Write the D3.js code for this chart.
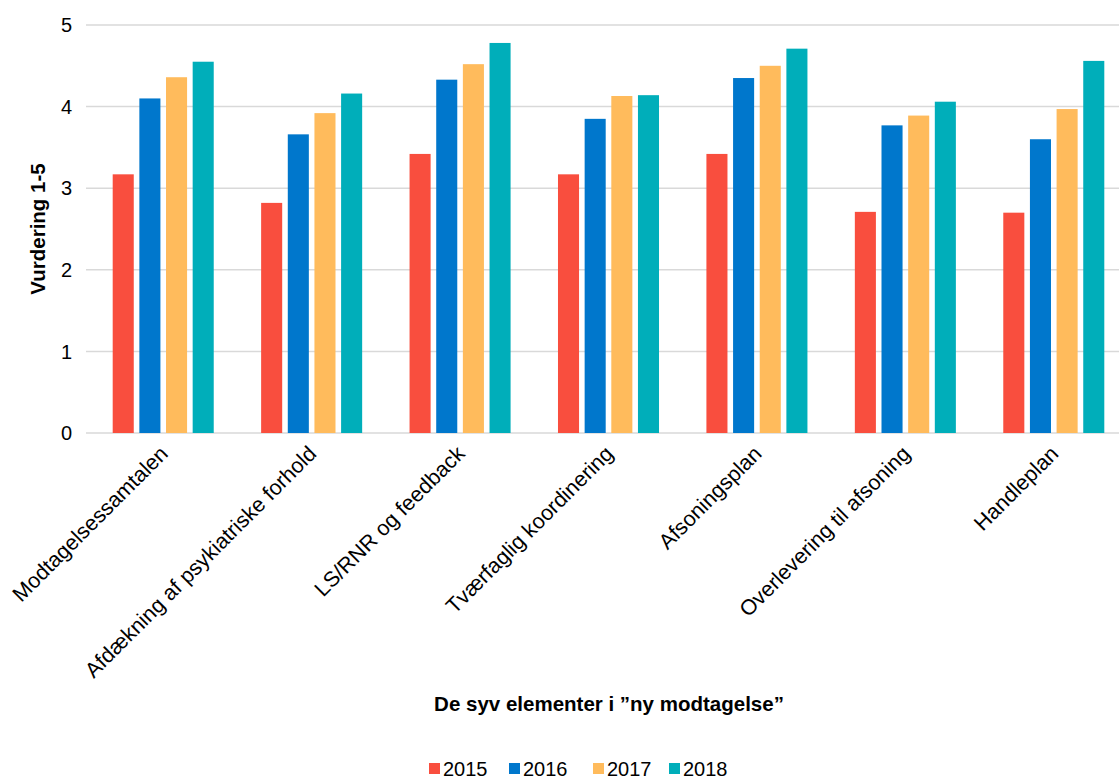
<!DOCTYPE html>
<html>
<head>
<meta charset="utf-8">
<script src="https://cdn.jsdelivr.net/npm/d3@7"></script>
<style>
  body { margin: 0; background: #fff; }
  text { font-family: "Liberation Sans", Arial, sans-serif; fill: #000; }
</style>
</head>
<body>
<div id="chart"></div>
<script>
// Data
var categories = ["Modtagelsessamtalen", "Afdækning af psykiatriske forhold", "LS/RNR og feedback",
    "Tværfaglig koordinering", "Afsoningsplan", "Overlevering til afsoning", "Handleplan"];
var years = ["2015", "2016", "2017", "2018"];
var values2015 = [3.17, 2.82, 3.42, 3.17, 3.42, 2.71, 2.70];
var values2016 = [4.10, 3.66, 4.33, 3.85, 4.35, 3.77, 3.60];
var values2017 = [4.36, 3.92, 4.52, 4.13, 4.50, 3.89, 3.97];
var values2018 = [4.55, 4.16, 4.78, 4.14, 4.71, 4.06, 4.56];
var yTicks = [0, 1, 2, 3, 4, 5];
var colors = ["#F94E3E", "#0077CC", "#FFBB5C", "#00AEBA"];

var series = [values2015, values2016, values2017, values2018];

var width = 1119, height = 780;
var margin = {top: 25, left: 89, bottom: 347};
var plotRight = 1128;
var y0 = height - margin.bottom; // baseline

var svg = d3.select("#chart").append("svg")
    .attr("width", width)
    .attr("height", height);

// Scales
var xScale = d3.scaleBand()
    .domain(categories)
    .range([margin.left, plotRight]);

var xInner = d3.scaleBand()
    .domain(years)
    .range([23.7, xScale.bandwidth() - 23.7])
    .paddingInner(0.21);

var yScale = d3.scaleLinear()
    .domain([0, 5])
    .range([y0, margin.top]);

// Gridlines
svg.append("g")
    .selectAll("line")
    .data(yTicks)
    .enter().append("line")
    .attr("x1", 86)
    .attr("x2", width)
    .attr("y1", function (d) { return yScale(d); })
    .attr("y2", function (d) { return yScale(d); })
    .attr("stroke", "#d9d9d9")
    .attr("stroke-width", 1.5);

// y-axis labels
svg.append("g")
    .selectAll("text")
    .data(yTicks)
    .enter().append("text")
    .attr("x", 72)
    .attr("y", function (d) { return yScale(d); })
    .attr("dy", "0.36em")
    .attr("text-anchor", "end")
    .style("font-size", "20px")
    .text(function (d) { return d; });

// Bars
var groups = svg.append("g")
    .selectAll("g")
    .data(categories)
    .enter().append("g")
    .attr("transform", function (d) { return "translate(" + xScale(d) + ",0)"; });

groups.selectAll("rect")
    .data(function (d, i) {
        return years.map(function (yr, j) { return {year: yr, value: series[j][i], idx: j}; });
    })
    .enter().append("rect")
    .attr("x", function (d) { return xInner(d.year); })
    .attr("width", xInner.bandwidth())
    .attr("y", function (d) { return yScale(d.value); })
    .attr("height", function (d) { return y0 - yScale(d.value); })
    .attr("fill", function (d) { return colors[d.idx]; });

// Category labels
svg.append("g")
    .selectAll("text")
    .data(categories)
    .enter().append("text")
    .attr("text-anchor", "end")
    .attr("transform", function (d) {
        var cx = xScale(d) + xScale.bandwidth() / 2 + 6;
        return "translate(" + cx + "," + (y0 + 22) + ") rotate(-45)";
    })
    .style("font-size", "21.5px")
    .text(function (d) { return d; });

// Axis titles
svg.append("text")
    .attr("x", 609)
    .attr("y", 711)
    .attr("text-anchor", "middle")
    .style("font-size", "20.5px")
    .style("font-weight", "bold")
    .text("De syv elementer i ”ny modtagelse”");

svg.append("text")
    .attr("transform", "translate(45," + ((margin.top + y0) / 2) + ") rotate(-90)")
    .attr("text-anchor", "middle")
    .style("font-size", "20.5px")
    .style("font-weight", "bold")
    .text("Vurdering 1-5");

// Legend
var legendX = [429, 509, 593, 669];
var legend = svg.append("g")
    .selectAll("g")
    .data(years)
    .enter().append("g")
    .attr("transform", function (d, i) { return "translate(" + legendX[i] + ",763)"; });

legend.append("rect")
    .attr("width", 11)
    .attr("height", 11)
    .attr("fill", function (d, i) { return colors[i]; });

legend.append("text")
    .attr("x", 14)
    .attr("y", 5.5)
    .attr("dy", "0.36em")
    .style("font-size", "20px")
    .text(function (d) { return d; });
</script>
</body>
</html>
